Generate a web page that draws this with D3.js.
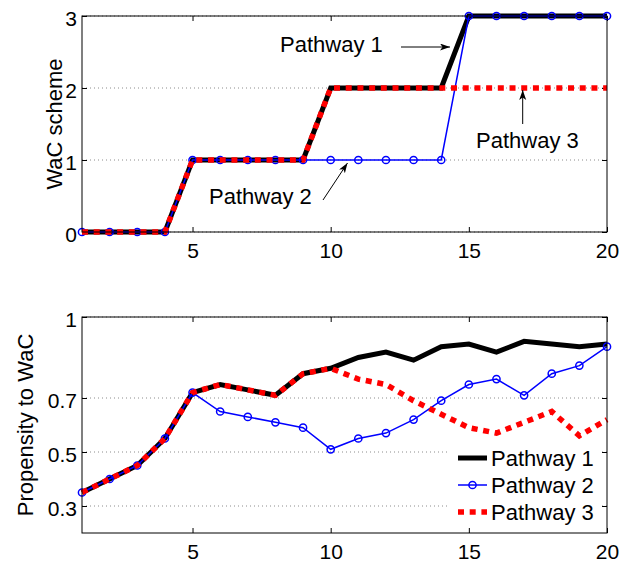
<!DOCTYPE html>
<html>
<head>
<meta charset="utf-8">
<script src="https://cdn.jsdelivr.net/npm/d3@7"></script>
<style>
  body { margin: 0; background: #fff; }
  svg { display: block; font-family: "Liberation Sans", Arial, Helvetica, sans-serif; }
</style>
</head>
<body>
<svg width="625" height="566"></svg>
<script>
// ---- data
const steps = [1, 2, 3, 4, 5, 6, 7, 8, 9, 10, 11, 12, 13, 14, 15, 16, 17, 18, 19, 20];

const schemeP1 = [0, 0, 0, 0, 1, 1, 1, 1, 1, 2, 2, 2, 2, 2, 3, 3, 3, 3, 3, 3];
const schemeP2 = [0, 0, 0, 0, 1, 1, 1, 1, 1, 1, 1, 1, 1, 1, 3, 3, 3, 3, 3, 3];
const schemeP3 = [0, 0, 0, 0, 1, 1, 1, 1, 1, 2, 2, 2, 2, 2, 2, 2, 2, 2, 2, 2];

const propP1 = [0.35, 0.40, 0.45, 0.55, 0.72, 0.75, 0.73, 0.71, 0.79, 0.81, 0.85, 0.87, 0.84, 0.89, 0.90, 0.87, 0.91, 0.90, 0.89, 0.90];
const propP2 = [0.35, 0.40, 0.45, 0.55, 0.72, 0.65, 0.63, 0.61, 0.59, 0.51, 0.55, 0.57, 0.62, 0.69, 0.75, 0.77, 0.71, 0.79, 0.82, 0.89];
const propP3 = [0.35, 0.40, 0.45, 0.55, 0.72, 0.75, 0.73, 0.71, 0.79, 0.81, 0.77, 0.75, 0.69, 0.64, 0.59, 0.57, 0.61, 0.65, 0.56, 0.62];

const xTicks = [5, 10, 15, 20];
const schemeTicks = [0, 1, 2, 3];
const propTicks = [0.3, 0.5, 0.7, 1];
const seriesNames = ['Pathway 1', 'Pathway 2', 'Pathway 3'];

// ---- layout
const svg = d3.select('svg');
const left = 82, right = 607;
const FONT_TICK = 21, FONT_LABEL = 22;

const x = d3.scaleLinear().domain([1, 20]).range([left, right]);
const yTop = d3.scaleLinear().domain([0, 3]).range([232, 16]);
const yBot = d3.scaleLinear().domain([0.2, 1]).range([533, 317]);

const defs = svg.append('defs');
defs.append('marker')
  .attr('id', 'head')
  .attr('markerUnits', 'userSpaceOnUse')
  .attr('markerWidth', 12).attr('markerHeight', 8)
  .attr('refX', 10).attr('refY', 3.5)
  .attr('orient', 'auto')
  .append('path')
  .attr('d', 'M0,0 L10,3.5 L0,7 L2.5,3.5 Z')
  .attr('fill', '#000');

function styles(name) {
  if (name === 'Pathway 1') return { stroke: '#000', width: 5, dash: null };
  if (name === 'Pathway 2') return { stroke: '#0000ff', width: 1.5, dash: null };
  return { stroke: '#ff0000', width: 5.5, dash: '6,5.7' };
}

function drawPanel(y, ticks, tickFmt, series, ylabel, labelX) {
  const g = svg.append('g');
  const [y0, y1] = y.range();

  // grid
  g.selectAll('.grid')
    .data(ticks)
    .enter().append('line')
    .attr('x1', left).attr('x2', right)
    .attr('y1', d => y(d)).attr('y2', d => y(d))
    .attr('stroke', '#8c8c8c')
    .attr('stroke-width', 1)
    .attr('stroke-dasharray', '1,3');

  // axes, ticks pointing in
  const ax = [
    d3.axisBottom(x).tickValues(xTicks).tickSizeInner(-5).tickSizeOuter(0).tickPadding(11),
    d3.axisTop(x).tickValues(xTicks).tickSizeInner(-5).tickSizeOuter(0).tickFormat(''),
    d3.axisLeft(y).tickValues(ticks).tickSizeInner(-5).tickSizeOuter(0).tickPadding(5).tickFormat(tickFmt),
    d3.axisRight(y).tickValues(ticks).tickSizeInner(-5).tickSizeOuter(0).tickFormat('')
  ];
  const pos = [`translate(0,${y0})`, `translate(0,${y1})`, `translate(${left},0)`, `translate(${right},0)`];
  ax.forEach((a, i) => {
    const ga = g.append('g').attr('transform', pos[i]).call(a);
    ga.select('.domain').remove();
    ga.selectAll('line').attr('stroke', '#000');
    ga.selectAll('text')
      .attr('fill', '#000')
      .style('font-size', FONT_TICK + 'px')
      .style('font-family', '"Liberation Sans", Arial, sans-serif');
    if (i === 2) ga.selectAll('text').attr('dy', '0.47em');
  });

  // data lines
  const line = d3.line().x((d, i) => x(steps[i])).y(d => y(d)).curve(d3.curveLinear);
  series.forEach(([name, vals]) => {
    const s = styles(name);
    g.append('path')
      .datum(vals)
      .attr('d', line)
      .attr('fill', 'none')
      .attr('stroke', s.stroke)
      .attr('stroke-width', s.width)
      .attr('stroke-linejoin', 'miter')
      .attr('stroke-dasharray', s.dash);
    if (name === 'Pathway 2') {
      g.selectAll('.pt2' + y0)
        .data(vals)
        .enter().append('circle')
        .attr('cx', (d, i) => x(steps[i]))
        .attr('cy', d => y(d))
        .attr('r', 3.6)
        .attr('fill', 'none')
        .attr('stroke', s.stroke)
        .attr('stroke-width', 1.5);
    }
  });

  // box
  g.append('rect')
    .attr('x', left).attr('y', y1)
    .attr('width', right - left).attr('height', y0 - y1)
    .attr('fill', 'none').attr('stroke', '#000').attr('stroke-width', 1);

  // y label
  g.append('text')
    .attr('transform', `translate(${labelX},${(y0 + y1) / 2}) rotate(-90)`)
    .attr('text-anchor', 'middle')
    .style('font-size', FONT_LABEL + 'px')
    .text(ylabel);

  return g;
}

const topPanel = drawPanel(yTop, schemeTicks, d3.format('d'),
  [['Pathway 1', schemeP1], ['Pathway 2', schemeP2], ['Pathway 3', schemeP3]],
  'WaC scheme', 62);

const botPanel = drawPanel(yBot, propTicks, d => (d === 1 ? '1' : d3.format('.1f')(d)),
  [['Pathway 1', propP1], ['Pathway 2', propP2], ['Pathway 3', propP3]],
  'Propensity to WaC', 33);

// ---- annotations on top panel
const notes = [
  { text: 'Pathway 1', tx: 280, ty: 52, from: [401, 47], to: [450, 47] },
  { text: 'Pathway 3', tx: 476, ty: 148, from: [522.7, 124], to: [522.7, 90] },
  { text: 'Pathway 2', tx: 209, ty: 204, from: [323, 200], to: [347.5, 163] }
];
notes.forEach(n => {
  topPanel.append('text')
    .attr('x', n.tx).attr('y', n.ty)
    .style('font-size', FONT_LABEL + 'px')
    .text(n.text);
  topPanel.append('line')
    .attr('x1', n.from[0]).attr('y1', n.from[1])
    .attr('x2', n.to[0]).attr('y2', n.to[1])
    .attr('stroke', '#000').attr('stroke-width', 1)
    .attr('marker-end', 'url(#head)');
});

// ---- legend
const leg = botPanel.append('g');
leg.append('rect')
  .attr('x', 448).attr('y', 442)
  .attr('width', 152).attr('height', 86)
  .attr('fill', '#fff');

const rowY = [458, 485, 512];
seriesNames.forEach((name, i) => {
  const s = styles(name);
  leg.append('line')
    .attr('x1', 458).attr('x2', 487)
    .attr('y1', rowY[i]).attr('y2', rowY[i])
    .attr('stroke', s.stroke)
    .attr('stroke-width', s.width)
    .attr('stroke-dasharray', s.dash);
  if (name === 'Pathway 2') {
    leg.append('circle')
      .attr('cx', 472.5).attr('cy', rowY[i]).attr('r', 3.6)
      .attr('fill', 'none').attr('stroke', s.stroke).attr('stroke-width', 1.5);
  }
  leg.append('text')
    .attr('x', 491).attr('y', rowY[i] + 8)
    .style('font-size', FONT_LABEL + 'px')
    .text(name);
});
</script>
</body>
</html>
